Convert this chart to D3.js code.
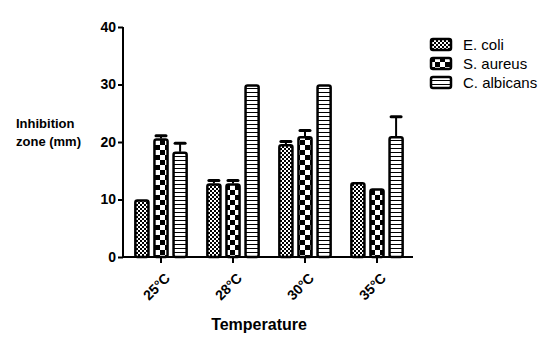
<!DOCTYPE html>
<html>
<head>
<meta charset="utf-8">
<script src="https://cdn.jsdelivr.net/npm/d3@7"></script>
<style>
  body { margin: 0; background: #fff; }
  svg { display: block; font-family: "Liberation Sans", Arial, sans-serif; }
</style>
</head>
<body>
<div id="chart"></div>
<script>
// Inhibition zone by temperature, three organisms

const temperatures = ['25°C', '28°C', '30°C', '35°C'];
const organisms = ['E. coli', 'S. aureus', 'C. albicans'];
const patternIds = ['pat-ecoli', 'pat-saureus', 'pat-calbicans'];

// mean values per organism, one per temperature
const eColi = [10, 12.8, 19.6, 13];
const sAureus = [20.6, 12.8, 21, 11.9];
const cAlbicans = [18.3, 30, 30, 21];

// upper error (SD)
const eColiErr = [0, 0.5, 0.5, 0];
const sAureusErr = [0.5, 0.5, 1, 0];
const cAlbicansErr = [1.5, 0, 0, 3.4];

const yTicks = [0, 10, 20, 30, 40];

const seriesValues = [eColi, sAureus, cAlbicans];
const seriesErrors = [eColiErr, sAureusErr, cAlbicansErr];

const width = 552, height = 348;
const font = '"Liberation Sans", Arial, sans-serif';

const svg = d3.select('#chart').append('svg')
    .attr('width', width)
    .attr('height', height);

// Patterns
const defs = svg.append('defs');

const p1 = defs.append('pattern').attr('id', 'pat-ecoli')
    .attr('patternUnits', 'userSpaceOnUse').attr('width', 4).attr('height', 4);
p1.append('rect').attr('width', 4).attr('height', 4).attr('fill', '#fff');
p1.append('rect').attr('width', 2).attr('height', 2).attr('fill', '#000');
p1.append('rect').attr('x', 2).attr('y', 2).attr('width', 2).attr('height', 2).attr('fill', '#000');

const p2 = defs.append('pattern').attr('id', 'pat-saureus')
    .attr('patternUnits', 'userSpaceOnUse').attr('width', 10).attr('height', 10);
p2.append('rect').attr('width', 10).attr('height', 10).attr('fill', '#fff');
p2.append('rect').attr('width', 5).attr('height', 5).attr('fill', '#000');
p2.append('rect').attr('x', 5).attr('y', 5).attr('width', 5).attr('height', 5).attr('fill', '#000');

const p3 = defs.append('pattern').attr('id', 'pat-calbicans')
    .attr('patternUnits', 'userSpaceOnUse').attr('width', 4).attr('height', 4);
p3.append('rect').attr('width', 4).attr('height', 4).attr('fill', '#fff');
p3.append('rect').attr('width', 4).attr('height', 1).attr('fill', '#000');

// Scales
const x0 = d3.scaleBand()
    .domain(temperatures)
    .range([125, 413])
    .paddingInner(0.26)
    .paddingOuter(0.13);

const x1 = d3.scaleBand()
    .domain(organisms)
    .range([0, x0.bandwidth()])
    .paddingInner(0.21)
    .paddingOuter(0);

const y = d3.scaleLinear()
    .domain([0, 40])
    .range([257, 27]);

// Bars
const rows = [];
temperatures.forEach((t, i) => {
    organisms.forEach((o, j) => {
        rows.push({ t, o, j, v: seriesValues[j][i], e: seriesErrors[j][i] });
    });
});

const bars = svg.append('g');

// error bars (upper only)
bars.selectAll('.err')
    .data(rows.filter(d => d.e > 0))
    .enter()
    .append('g')
    .each(function (d) {
        const cx = x0(d.t) + x1(d.o) + x1.bandwidth() / 2;
        const g = d3.select(this);
        g.append('line')
            .attr('x1', cx).attr('x2', cx)
            .attr('y1', y(d.v)).attr('y2', y(d.v + d.e))
            .attr('stroke', '#000').attr('stroke-width', 2);
        g.append('line')
            .attr('x1', cx - 5).attr('x2', cx + 5)
            .attr('y1', y(d.v + d.e)).attr('y2', y(d.v + d.e))
            .attr('stroke', '#000').attr('stroke-width', 3)
            .attr('stroke-linecap', 'round');
    });

bars.selectAll('.bar')
    .data(rows)
    .enter()
    .append('rect')
    .attr('class', 'bar')
    .attr('x', d => x0(d.t) + x1(d.o) + 1)
    .attr('y', d => y(d.v) + 1)
    .attr('width', x1.bandwidth() - 2)
    .attr('height', d => y(0) - y(d.v) - 1)
    .attr('rx', 2)
    .attr('fill', d => `url(#${patternIds[d.j]})`)
    .attr('stroke', '#000')
    .attr('stroke-width', 2.5);

// Axes
const yAxis = d3.axisLeft(y)
    .tickValues(yTicks)
    .tickSize(5)
    .tickPadding(2);

const gy = svg.append('g')
    .attr('transform', 'translate(123,0)')
    .call(yAxis)
    .attr('font-size', null)
    .attr('font-family', null);

gy.select('.domain').attr('stroke-width', 2).attr('d', `M0,${y(40)}V${y(0)}`);
gy.selectAll('.tick line').attr('stroke-width', 2);
gy.selectAll('.tick text')
    .style('font-size', '14px')
    .style('font-weight', 'bold')
    .style('font-family', font)
    .attr('fill', '#000');

const xAxis = d3.axisBottom(x0)
    .tickSize(6)
    .tickSizeOuter(0);

const gx = svg.append('g')
    .attr('transform', `translate(0,${y(0)})`)
    .call(xAxis)
    .attr('font-size', null)
    .attr('font-family', null);

gx.select('.domain').attr('stroke-width', 2).attr('d', `M122,0H413`);
gx.selectAll('.tick line').attr('stroke-width', 2);
gx.selectAll('.tick text')
    .style('font-size', '14px')
    .style('font-weight', 'bold')
    .style('font-family', font)
    .attr('fill', '#000')
    .attr('text-anchor', 'end')
    .attr('dy', null)
    .attr('y', 0)
    .attr('transform', 'translate(10,22) rotate(-45)');

// Axis titles
svg.append('text')
    .attr('x', 259)
    .attr('y', 330)
    .attr('text-anchor', 'middle')
    .style('font-size', '16px')
    .style('font-weight', 'bold')
    .text('Temperature');

const yt = svg.append('text')
    .style('font-size', '13px')
    .style('font-weight', 'bold');
yt.append('tspan').attr('x', 16).attr('y', 128).text('Inhibition');
yt.append('tspan').attr('x', 16).attr('y', 146).text('zone (mm)');

// Legend
const legend = svg.append('g')
    .attr('transform', 'translate(430, 38)');

const items = legend.selectAll('.legend-item')
    .data(organisms)
    .enter()
    .append('g')
    .attr('class', 'legend-item')
    .attr('transform', (d, i) => `translate(0, ${i * 19})`);

items.append('rect')
    .attr('x', 1).attr('y', 1)
    .attr('width', 20).attr('height', 11)
    .attr('rx', 2)
    .attr('fill', (d, i) => `url(#${patternIds[i]})`)
    .attr('stroke', '#000')
    .attr('stroke-width', 2.5);

items.append('text')
    .attr('x', 33)
    .attr('y', 12)
    .style('font-size', '15px')
    .text(d => d);
</script>
</body>
</html>
